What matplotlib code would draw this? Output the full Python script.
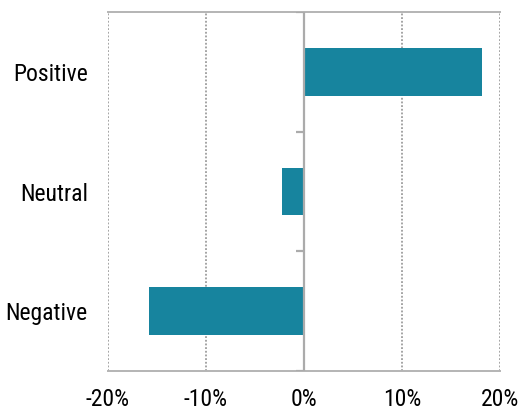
import matplotlib
matplotlib.use("Agg")
import matplotlib.pyplot as plt
from matplotlib import font_manager
from matplotlib.ticker import FuncFormatter, FixedLocator

categories = ["Negative", "Neutral", "Positive"]
values = [-15.8, -2.2, 18.2]
xticks = [-20, -10, 0, 10, 20]

# prefer an upright, regular-weight narrow sans face for the labels
fonts = [f for f in font_manager.fontManager.ttflist
         if f.style == "normal" and f.weight in (400, "normal", "regular")]
preferred = ["Liberation Sans Narrow", "Arial Narrow", "Roboto Condensed",
             "Open Sans Condensed", "DejaVu Sans Condensed"]
narrow = None
for name in preferred:
    for f in fonts:
        if f.name == name:
            narrow = f
            break
    if narrow is not None:
        break
if narrow is None:
    for f in fonts:
        low = f.fname.lower()
        if ("condensed" in str(f.stretch).lower() or "narrow" in low or "condensed" in low) \
                and "italic" not in low and "bold" not in low and "light" not in low:
            narrow = f
            break

if narrow is not None:
    label_font = font_manager.FontProperties(fname=narrow.fname, size=17)
else:
    label_font = font_manager.FontProperties(family="Liberation Sans", size=15)

fig = plt.figure(figsize=(5.19, 4.12), dpi=100)
ax = fig.add_axes([108 / 519, 1 - 371 / 412, 392 / 519, 359 / 412])

bar_color = "#17849E"
ax.barh(range(len(categories)), values, height=0.4, color=bar_color, zorder=3)

ax.set_xlim(-20, 20)
ax.set_ylim(-0.5, len(categories) - 0.5)

grid_color = "#8c8c8c"
for x in [-20, -10, 10, 20]:
    ax.axvline(x, color=grid_color, lw=1.1, ls=(0, (1.2, 1.2)), zorder=1)
ax.axvline(0, color="#ababab", lw=1.6, zorder=4)

# category boundary ticks on the zero axis
for y in [0.5, 1.5, 2.5, -0.5]:
    ax.plot([-0.8, 0], [y, y], color="#ababab", lw=1.6, zorder=4, solid_capstyle="butt")

for side in ["left", "right"]:
    ax.spines[side].set_visible(False)
for side in ["top", "bottom"]:
    ax.spines[side].set_color("#b4b4b4")
    ax.spines[side].set_linewidth(1.4)

ax.xaxis.set_major_locator(FixedLocator(xticks))
ax.xaxis.set_major_formatter(FuncFormatter(lambda v, p: f"{v:.0f}%"))
ax.set_yticks(range(len(categories)))
ax.set_yticklabels(categories)
ax.tick_params(axis="both", length=0, colors="black")
ax.tick_params(axis="y", pad=14.5)
ax.tick_params(axis="x", pad=12)
for lab in ax.get_xticklabels() + ax.get_yticklabels():
    lab.set_fontproperties(label_font)

fig.savefig("out.png", dpi=100)
